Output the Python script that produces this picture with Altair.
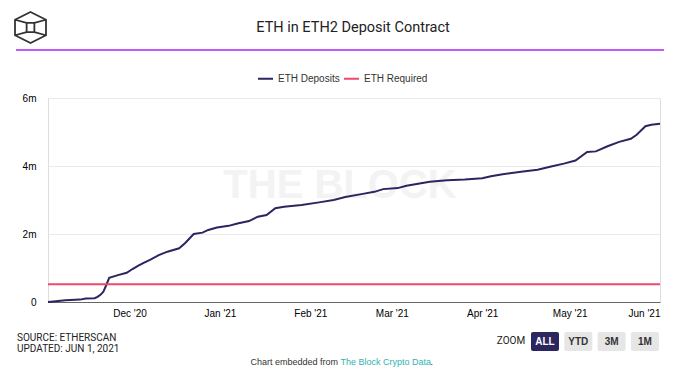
import altair as alt
import pandas as pd

# ---------------- data (millions of ETH) ----------------
deposit_dates = [
    "2020-11-03", "2020-11-04", "2020-11-09", "2020-11-14", "2020-11-16", "2020-11-19",
    "2020-11-20", "2020-11-21", "2020-11-22", "2020-11-23", "2020-11-24", "2020-11-27",
    "2020-11-30", "2020-12-02", "2020-12-04", "2020-12-06", "2020-12-08", "2020-12-11",
    "2020-12-14", "2020-12-18", "2020-12-20", "2020-12-23", "2020-12-26", "2020-12-28",
    "2020-12-31", "2021-01-04", "2021-01-07", "2021-01-11", "2021-01-14", "2021-01-17",
    "2021-01-20", "2021-01-23", "2021-01-29", "2021-02-04", "2021-02-09", "2021-02-13",
    "2021-02-19", "2021-02-23", "2021-02-26", "2021-03-03", "2021-03-06", "2021-03-14",
    "2021-03-20", "2021-03-26", "2021-04-01", "2021-04-04", "2021-04-08", "2021-04-15",
    "2021-04-20", "2021-04-25", "2021-04-29", "2021-05-03", "2021-05-07", "2021-05-10",
    "2021-05-14", "2021-05-18", "2021-05-22", "2021-05-24", "2021-05-27", "2021-05-29",
    "2021-06-01",
]
deposit_values = [
    0.00, 0.01, 0.05, 0.07, 0.10, 0.11,
    0.15, 0.21, 0.30, 0.50, 0.71, 0.79,
    0.86, 0.97, 1.07, 1.16, 1.24, 1.38,
    1.48, 1.58, 1.73, 2.00, 2.04, 2.12,
    2.19, 2.24, 2.31, 2.38, 2.51, 2.56,
    2.76, 2.80, 2.85, 2.93, 3.00, 3.09,
    3.18, 3.24, 3.32, 3.35, 3.42, 3.54,
    3.58, 3.60, 3.64, 3.70, 3.76, 3.84,
    3.89, 3.99, 4.07, 4.16, 4.41, 4.43,
    4.58, 4.71, 4.80, 4.92, 5.17, 5.21,
    5.24,
]
required_dates = ["2020-11-03", "2021-06-01"]
required_values = [0.524288, 0.524288]

series_names = ["ETH Deposits", "ETH Required"]
series_colors = ["#2b2560", "#f0476b"]
y_ticks = [0, 2, 4, 6]
zoom_buttons = ["ALL", "YTD", "3M", "1M"]

rows = [{"date": d + "T00:00:00", "value": v, "series": series_names[0]}
        for d, v in zip(deposit_dates, deposit_values)]
rows += [{"date": d + "T00:00:00", "value": v, "series": series_names[1]}
         for d, v in zip(required_dates, required_values)]
df = pd.DataFrame(rows)

FONT = "Liberation Sans"
W, H = 612, 204

month_ticks = [alt.DateTime(year=2020, month=12, date=1)] + [
    alt.DateTime(year=2021, month=m, date=1) for m in range(1, 7)
]

lines = alt.Chart(df).mark_line(strokeWidth=2, interpolate="linear").encode(
    x=alt.X(
        "date:T",
        title=None,
        scale=alt.Scale(domain=[alt.DateTime(year=2020, month=11, date=3),
                                alt.DateTime(year=2021, month=6, date=1)]),
        axis=alt.Axis(values=month_ticks, format="%b '%y", ticks=False, grid=False,
                      domain=True, domainColor="#666666", domainWidth=1,
                      labelPadding=6, labelFlush=True, labelOverlap=False),
    ),
    y=alt.Y(
        "value:Q",
        title=None,
        scale=alt.Scale(domain=[0, 6], nice=False),
        axis=alt.Axis(values=y_ticks, ticks=False, domain=False, grid=True,
                      gridColor="#e9e9e9", labelPadding=12,
                      labelExpr="datum.value == 0 ? '0' : datum.value + 'm'"),
    ),
    color=alt.Color(
        "series:N",
        scale=alt.Scale(domain=series_names, range=series_colors),
        legend=alt.Legend(orient="none", legendX=209, legendY=-28, direction="horizontal",
                          title=None, symbolType="stroke", symbolStrokeWidth=2,
                          symbolSize=225, labelFontSize=10, labelColor="#333333",
                          labelFont=FONT, labelOffset=4, columnPadding=0),
    ),
)

one = pd.DataFrame({"k": [0]})


def txt(text, x, y, size=10, color="#333333", weight="normal", align="center", font=FONT):
    return alt.Chart(one).mark_text(
        text=text, fontSize=size, color=color, fontWeight=weight, align=align,
        baseline="middle", font=font,
    ).encode(x=alt.value(x), y=alt.value(y))


watermark = txt("THE BLOCK", 292, 88, size=40, color="#f3f3f3", weight="bold")
title = txt("ETH in ETH2 Deposit Contract", 305, -70, size=14.5, color="#222222", font="Roboto")

logo_path = ("M0,-1L1,-0.5L1,0.5L0,1L-1,0.5L-1,-0.5Z"
             "M-0.25,-0.3L0.25,-0.3L0.25,0.3L-0.25,0.3Z"
             "M-1,-0.5L-0.25,-0.3M1,-0.5L0.25,-0.3M-1,0.5L-0.25,0.3M1,0.5L0.25,0.3")
logo = alt.Chart(one).mark_point(shape=logo_path, filled=False, stroke="#333333",
                                 strokeWidth=1.8, opacity=1, size=961).encode(
    x=alt.value(-17.5), y=alt.value(-70.5))

purple = alt.Chart(one).mark_rule(color="#b125f5", strokeWidth=1.5).encode(
    x=alt.value(-32), x2=alt.value(616), y=alt.value(-48))

source1 = txt("SOURCE: ETHERSCAN", -31, 240, size=10, align="left", font="Roboto",
              color="#222222")
source2 = txt("UPDATED: JUN 1, 2021", -31, 251, size=10, align="left", font="Roboto",
              color="#222222")

zoom_label = txt("ZOOM", 463, 243, size=10, font="Roboto", color="#222222")
btn_layers = []
for i, b in enumerate(zoom_buttons):
    x0 = 483 + i * 33.3
    fill = "#2b2560" if b == "ALL" else "#e6e6e6"
    tcol = "#ffffff" if b == "ALL" else "#333333"
    btn_layers.append(
        alt.Chart(one).mark_rect(cornerRadius=2, color=fill).encode(
            x=alt.value(x0), x2=alt.value(x0 + 28), y=alt.value(234), y2=alt.value(253))
    )
    btn_layers.append(txt(b, x0 + 14, 243.5, size=10, color=tcol, weight="bold"))

embed1 = txt("Chart embedded from", 290, 264, size=9, align="right")
embed2 = txt("The Block Crypto Data", 292.5, 264, size=9, align="left", color="#2fb3b3")
embed3 = txt(".", 382.5, 264, size=9, align="left")

chart = alt.layer(
    watermark, lines, title, logo, purple, source1, source2, zoom_label, *btn_layers,
    embed1, embed2, embed3,
).properties(
    width=W, height=H,
    autosize=alt.AutoSizeParams(type="none"),
    padding={"left": 40, "top": 90, "right": 8, "bottom": 66},
).configure_view(strokeWidth=0).configure_axis(
    labelFont=FONT, labelFontSize=10.5, labelColor="#333333",
).configure(background="white")

chart.save("out.html", embed_options={"renderer": "svg", "actions": False})
